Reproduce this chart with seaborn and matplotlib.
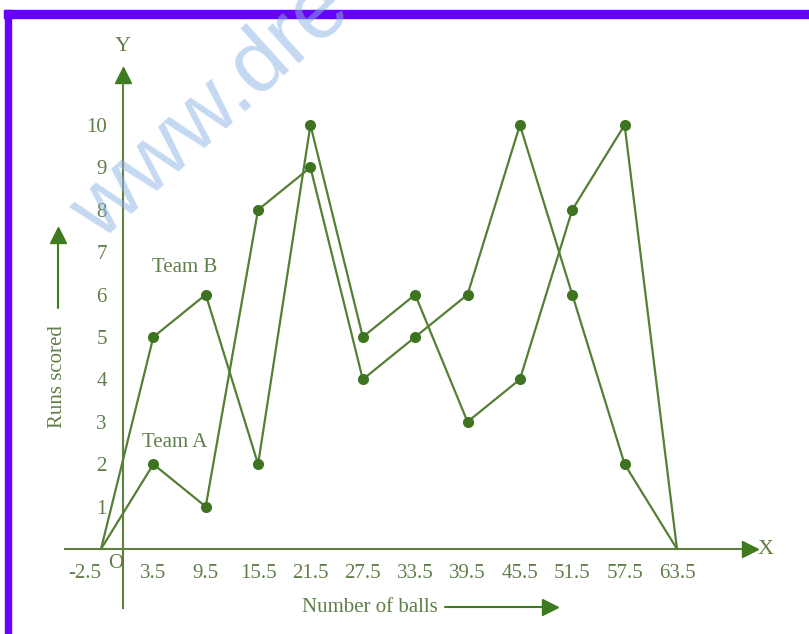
import numpy as np
import pandas as pd
import seaborn as sns
import matplotlib.pyplot as plt
from matplotlib.patches import Rectangle
from matplotlib.transforms import ScaledTranslation

# data
balls = [-2.5, 3.5, 9.5, 15.5, 21.5, 27.5, 33.5, 39.5, 45.5, 51.5, 57.5, 63.5]
team_a = [0, 2, 1, 8, 9, 4, 5, 6, 10, 6, 2, 0]
team_b = [0, 5, 6, 2, 10, 5, 6, 3, 4, 8, 10, 0]
xtick_labels = ["-2.5", "3.5", "9.5", "15.5", "21.5", "27.5", "33.5", "39.5", "45.5", "51.5", "57.5", "63.5"]
minor_ticks = [6.5, 12.5, 18.5, 24.5, 30.5, 36.5, 42.5, 48.5, 54.5, 60.5]
yticks = [1, 2, 3, 4, 5, 6, 7, 8, 9, 10]

df = pd.DataFrame({
    "balls": balls * 2,
    "runs": team_a + team_b,
    "team": ["Team A"] * len(balls) + ["Team B"] * len(balls),
})

line_col = "#557f35"
dot_col = "#3e7420"
text_col = "#5f7f48"
axis_col = "#5f8040"

sns.set_style("white")
plt.rcParams["font.family"] = ["Liberation Serif", "DejaVu Serif"]

fig = plt.figure(figsize=(8.09, 6.34), dpi=100)
ax = fig.add_axes([0, 0, 1, 1])
ax.set_facecolor("white")

# no dots on the two end points (they sit on the x axis)
sns.lineplot(data=df, x="balls", y="runs", hue="team", palette=[line_col, line_col],
             marker="o", markersize=8, markeredgewidth=0, markerfacecolor=dot_col,
             markevery=list(range(1, len(balls) - 1)),
             linewidth=1.6, legend=False, ax=ax, zorder=3)

# axis scale chosen so the origin sits where it does in the picture
ax.set_xlim(-2.5 - 101 / 8.727, -2.5 + 708 / 8.727)
ax.set_ylim(-85 / 42.4, 549 / 42.4)

for s in ["top", "right"]:
    ax.spines[s].set_visible(False)
ax.spines["left"].set_position(("data", 0))
ax.spines["bottom"].set_position(("data", 0))
ax.spines["left"].set_bounds(-1.4, 11.0)
ax.spines["bottom"].set_bounds(-6.6, 70.8)
for s in ["left", "bottom"]:
    ax.spines[s].set_color(axis_col)
    ax.spines[s].set_linewidth(1.5)

ax.plot(0, 11.18, marker="^", markersize=11, color="#3e7a1e", clip_on=False)
ax.plot(71.9, 0, marker=">", markersize=11, color="#3e7a1e", clip_on=False)

ax.set_xticks(balls)
ax.set_xticklabels(xtick_labels)
ax.set_xticks(minor_ticks, minor=True)
ax.set_yticks(yticks)
ax.set_yticklabels([str(v) for v in yticks])
ax.tick_params(which="major", direction="inout", length=11, width=1.5, color=axis_col,
               labelsize=15, labelcolor=text_col, pad=5)
ax.tick_params(which="minor", direction="inout", length=7, width=1.2, color=axis_col)
ax.tick_params(axis="y", pad=6)
first = ax.get_xticklabels()[0]
first.set_transform(first.get_transform() + ScaledTranslation(-12 / 72, 0, fig.dpi_scale_trans))
ax.set_xlabel("")
ax.set_ylabel("")

ax.text(-0.8, -0.35, "O", fontsize=15, color=text_col, ha="center", va="center")
ax.text(0, 11.85, "Y", fontsize=16, color=text_col, ha="center", va="center")
ax.text(73.6, 0, "X", fontsize=16, color=text_col, ha="center", va="center")
ax.text(7.1, 6.63, "Team B", fontsize=15, color=text_col, ha="center", va="center")
ax.text(6.0, 2.52, "Team A", fontsize=15, color=text_col, ha="center", va="center")

# axis captions with their arrows
fig.text(370 / 809, 1 - 607 / 634, "Number of balls", fontsize=15, color=text_col,
         ha="center", va="center")
fig.add_artist(plt.Line2D([445 / 809, 545 / 809], [1 - 607 / 634] * 2, color="#3e7a1e", lw=1.5))
fig.add_artist(plt.Line2D([550 / 809], [1 - 607 / 634], marker=">", markersize=11, color="#3e7a1e"))
fig.text(58 / 809, 1 - 377 / 634, "Runs scored", fontsize=15, color=text_col,
         rotation=90, ha="center", va="center")
fig.add_artist(plt.Line2D([58 / 809] * 2, [1 - 308 / 634, 1 - 240 / 634], color="#3e7a1e", lw=1.5))
fig.add_artist(plt.Line2D([58 / 809], [1 - 235 / 634], marker="^", markersize=11, color="#3e7a1e"))

# purple frame
purple = "#6600ff"
fig.add_artist(Rectangle((4 / 809, 1 - 18 / 634), 1, 8 / 634, transform=fig.transFigure,
                         color=purple, zorder=5))
fig.add_artist(Rectangle((5 / 809, 0), 6 / 809, 1 - 10 / 634, transform=fig.transFigure,
                         color=purple, zorder=5))

# watermark, cut by the top edge as in the picture
fig.text(100 / 809, 1 - 242 / 634, "www.dre", fontsize=64, color="#8ab3e3", alpha=0.5,
         family="Liberation Sans", rotation=42, rotation_mode="anchor",
         ha="left", va="baseline", zorder=10)

fig.savefig("out.png", dpi=100)
